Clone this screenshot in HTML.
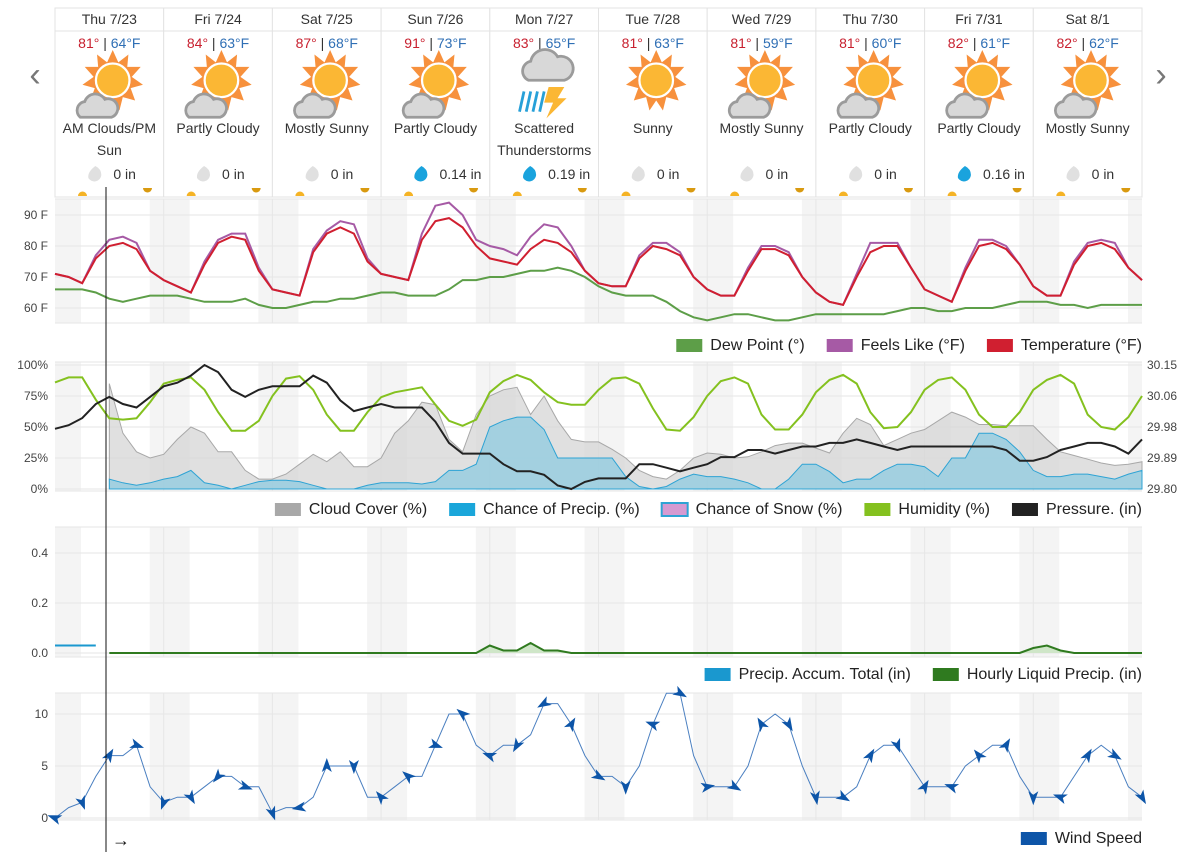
<!DOCTYPE html>
<html><head><meta charset="utf-8">
<style>
body{margin:0;background:#fff;font-family:"Liberation Sans",sans-serif;}
#wrap{position:relative;width:1197px;height:858px;overflow:hidden;}
svg text{font-family:"Liberation Sans",sans-serif;}
</style></head>
<body>
<div id="wrap">
<svg id="svg" width="1197" height="858" viewBox="0 0 1197 858">
<defs>
<g id="sun">
<polygon points="0,-27 5,-16 14,-23 13,-12 25,-12 17,-3 27,4 16,7 20,18 9,15 6,27 0,18 -6,27 -9,15 -20,18 -16,7 -27,4 -17,-3 -25,-12 -13,-12 -14,-23 -5,-16" fill="#f7913d"/>
<circle r="15" fill="#fbb734" stroke="#fff" stroke-width="2"/>
</g>
<g id="cloud">
<path d="M-18,10 a8,8 0 0 1 4,-14 a10,10 0 0 1 18,-2 a8,8 0 0 1 6,16 z" fill="#d8d8d8" stroke="#9b9b9b" stroke-width="2.5"/>
</g>
</defs>
<g id="header"></g>
<g id="c1"></g><g id="c2"></g><g id="c3"></g><g id="c4"></g>
<line x1="106" y1="187" x2="106" y2="852" stroke="#111" stroke-width="1"/>
<text x="112" y="846" font-size="18" fill="#111">→</text>
<text x="35" y="86" font-size="34" fill="#777" text-anchor="middle">‹</text>
<text x="1161" y="86" font-size="34" fill="#777" text-anchor="middle">›</text>
</svg>
</div>
<script>
const days=["Thu 7/23","Fri 7/24","Sat 7/25","Sun 7/26","Mon 7/27","Tue 7/28","Wed 7/29","Thu 7/30","Fri 7/31","Sat 8/1"];
const highs=[81,84,87,91,83,81,81,81,82,82];
const lows=[64,63,68,73,65,63,59,60,61,62];
const conds=[["AM Clouds/PM","Sun"],["Partly Cloudy"],["Mostly Sunny"],["Partly Cloudy"],["Scattered","Thunderstorms"],["Sunny"],["Mostly Sunny"],["Partly Cloudy"],["Partly Cloudy"],["Mostly Sunny"]];
const icons=["pc","pc","pc","pc","ts","sun","pc","pc","pc","pc"];
const precipDay=["0 in","0 in","0 in","0.14 in","0.19 in","0 in","0 in","0 in","0.16 in","0 in"];

const temp=[71,70,68,76,80,81,79,72, 69,67,65,74,81,83,82,72, 66,65,64,78,84,86,84,75, 71,70,69,82,88,89,86,80, 76,75,74,79,82,81,78,72, 68,67,67,76,80,79,77,70, 66,64,64,72,79,79,77,70, 65,62,61,70,78,80,80,73, 66,64,62,72,80,81,79,74, 67,64,64,74,80,81,79,73,69];
const feels=[71,70,68,77,82,83,81,72, 69,67,65,75,82,84,84,73, 66,65,64,79,85,88,87,76, 71,70,69,84,93,94,90,82, 80,79,77,83,87,86,80,72, 68,67,67,77,81,81,78,70, 66,64,64,73,80,80,78,70, 65,62,61,71,81,81,81,73, 66,64,62,73,82,82,80,74, 67,64,64,75,81,82,81,73,69];
const dew=[66,66,66,65,63,62,63,64, 64,64,63,62,62,62,63,61, 60,60,61,62,62,63,63,64, 65,65,64,64,64,66,69,69, 70,70,71,72,72,73,72,70, 67,65,64,64,64,62,59,57, 56,57,58,58,57,56,56,57, 58,58,58,58,58,58,59,60, 60,59,59,60,60,60,61,62, 62,62,61,61,60,61,61,61,61];
const cloud=[null,null,null,null,85,45,30,25, 28,40,50,45,30,30,15,8, 8,12,20,28,22,30,18,18, 25,45,55,70,68,40,30,60, 75,80,82,60,75,55,40,38, 38,32,25,15,10,8,15,25, 29,28,25,26,30,35,37,37, 33,29,45,57,52,35,40,45, 48,55,62,58,52,52,51,51, 51,40,30,27,24,21,19,20,22];
const pop=[null,null,null,null,8,5,3,5, 8,10,15,5,3,0,3,6, 7,7,6,3,0,0,0,3, 5,5,5,4,6,15,15,20, 50,55,58,58,48,25,25,25, 25,25,10,2,0,2,8,12, 10,10,8,5,0,0,8,20, 20,14,5,8,8,15,20,20, 18,10,25,25,45,45,40,30, 15,10,10,12,12,10,8,12,15];
const humidity=[86,90,90,72,57,56,57,70, 85,88,90,80,62,47,47,55, 75,89,91,80,60,47,47,62, 74,78,80,82,68,55,51,56, 78,87,92,88,78,70,68,68, 80,89,90,85,65,48,47,58, 75,87,90,85,60,48,48,60, 78,88,92,85,62,49,50,62, 80,88,90,80,60,50,50,62, 80,88,92,85,60,50,48,58,75];
const pressure=[29.97,29.98,30.00,30.04,30.06,30.04,30.03,30.06, 30.09,30.10,30.12,30.15,30.13,30.08,30.06,30.08, 30.09,30.09,30.09,30.12,30.10,30.05,30.02,30.03, 30.04,30.03,30.03,30.03,29.99,29.93,29.90,29.90, 29.90,29.87,29.85,29.85,29.84,29.81,29.80,29.82, 29.83,29.83,29.83,29.87,29.87,29.86,29.85,29.86, 29.87,29.89,29.89,29.91,29.91,29.90,29.91,29.92, 29.92,29.93,29.93,29.94,29.93,29.92,29.91,29.92, 29.92,29.92,29.92,29.92,29.92,29.92,29.91,29.88, 29.88,29.89,29.91,29.92,29.93,29.93,29.92,29.90,29.94];
const liquid=[null,null,null,null,0,0,0,0, 0,0,0,0,0,0,0,0, 0,0,0,0,0,0,0,0, 0,0,0,0,0,0,0,0, 0.03,0.01,0.01,0.04,0.01,0.01,0,0, 0,0,0,0,0,0,0,0, 0,0,0,0,0,0,0,0, 0,0,0,0,0,0,0,0, 0,0,0,0,0,0,0,0, 0.02,0.03,0.01,0,0,0,0,0,0];
const accum=[0.03,0.03,0.03,0.03];
const wind=[0,1,1.5,4,6,6,7,3, 1.5,2,2,3,4,4,3,3, 0.5,1,1,2,5,5,5,2, 2,3,4,4,7,10,10,7, 6,7,7,8,11,11,9,6, 4,4,3,5,9,12,12,6, 3,3,3,5,9,10,9,5, 2,2,2,3,6,7,7,5, 3,3,3,5,6,7,7,4, 2,2,2,4,6,7,6,3,2];
const windDir=[200,160,70,80,300,330,20,240, 110,120,60,45,130,300,20,110, 70,300,170,270,270,150,90,120, 230,130,220,290,20,330,220,240, 200,210,120,200,150,90,300,40, 30,40,90,350,200,45,30,300, 350,70,30,80,240,200,60,60, 80,300,30,220,300,70,70,50, 300,200,200,260,230,20,300,45, 90,60,200,240,300,160,30,330,60];
const yT=["90 F","80 F","70 F","60 F"];const yTv=[90,80,70,60];
const yP=["100%","75%","50%","25%","0%"];const yPv=[100,75,50,25,0];
const yPr=["30.15","30.06","29.98","29.89","29.80"];
const yQ=["0.4","0.2","0.0"];const yQv=[0.4,0.2,0];
const yW=["10","5","0"];const yWv=[10,5,0];

const NS="http://www.w3.org/2000/svg";
const X0=55,X1=1142,N=80;
function xs(i){return X0+(X1-X0)*i/N;}
function mk(parent,tag,attrs){const e=document.createElementNS(NS,tag);for(const k in attrs)e.setAttribute(k,attrs[k]);parent.appendChild(e);return e;}
function linePath(arr,ys){let d="";let pen=false;arr.forEach((v,i)=>{if(v===null){pen=false;return;}d+=(pen?"L":"M")+xs(i).toFixed(1)+","+ys(v).toFixed(1);pen=true;});return d;}
function areaPath(arr,ys,base){let pts=[];arr.forEach((v,i)=>{if(v!==null)pts.push([xs(i),ys(v)]);});if(!pts.length)return"";let d="M"+pts[0][0]+","+base;pts.forEach(p=>d+="L"+p[0].toFixed(1)+","+p[1].toFixed(1));d+="L"+pts[pts.length-1][0]+","+base+"Z";return d;}

// header
const H=document.getElementById('header');
const cw=(X1-X0)/10;
for(let d=0;d<10;d++){
  const x=X0+d*cw,cx=x+cw/2;
  const g=mk(H,'g',{});
  
  
  mk(g,'rect',{x:x,y:8,width:cw,height:189,fill:'#fff',stroke:'#e3e3e3'});
  mk(g,'line',{x1:x,y1:31,x2:x+cw,y2:31,stroke:'#e3e3e3'});
  let t=mk(g,'text',{x:cx,y:24,'font-size':14,'text-anchor':'middle',fill:'#333'});t.textContent=days[d];
  t=mk(g,'text',{x:cx,y:48,'font-size':14,'text-anchor':'middle'});
  const a=mk(t,'tspan',{fill:'#c8202f'});a.textContent=highs[d]+"°";
  const b=mk(t,'tspan',{fill:'#333'});b.textContent=" | ";
  const c=mk(t,'tspan',{fill:'#2f6fb5'});c.textContent=lows[d]+"°F";
  const ic=mk(g,'g',{transform:'translate('+cx+',87) scale(1.12)'});
  
  
  if(icons[d]==='ts'){
    mk(ic,'path',{d:'M-14,4 a9,9 0 0 1 2,-17 a13,13 0 0 1 24,-4 a10,10 0 0 1 6,21 z',fill:'#d8d8d8',stroke:'#9b9b9b','stroke-width':2.5,transform:'translate(0,-10)'});
    for(let k=0;k<4;k++)mk(ic,'line',{x1:-18+k*6,y1:4,x2:-22+k*6,y2:22,stroke:'#27a0d8','stroke-width':2.5});
    mk(ic,'polygon',{points:'4,0 18,0 12,10 20,10 2,28 8,14 0,14',fill:'#fbb734'});
  }else{
    mk(ic,'use',{href:'#sun',x:3,y:-6});
    if(icons[d]==='pc')mk(ic,'use',{href:'#cloud',x:-8,y:17});
  }
  conds[d].forEach((s,k)=>{const tt=mk(g,'text',{x:cx,y:133+k*22,'font-size':14,'text-anchor':'middle',fill:'#333'});tt.textContent=s;});
  const wet=precipDay[d]!=="0 in";
  mk(g,'path',{d:'M'+(cx-14)+',166 q-8,6 -7,12 a7,7 0 0 0 13,-3 q0,-6 -6,-9z',fill:wet?'#1aa3dd':'#e0e0e0'});
  t=mk(g,'text',{x:cx+4,y:179,'font-size':14,'text-anchor':'start',fill:'#333'});t.textContent=precipDay[d];
  mk(g,'path',{d:'M'+(x+23)+',196 a4.5,4.5 0 0 1 9,0z',fill:'#f5b325'});
  mk(g,'path',{d:'M'+(x+88)+',188 a4.5,4.5 0 0 0 9,0z',fill:'#d99a10'});
}

function panel(id,top,bot,ticksV,ticksL,ys,rightL){
  const g=document.getElementById(id);
  
  mk(g,'rect',{x:X0,y:top,width:X1-X0,height:bot-top,fill:'#fff'});
  for(let d=0;d<=10;d++){
    const n0=X0+d*cw-14,n1=X0+d*cw+26;
    const a=Math.max(n0,X0),b=Math.min(n1,X1);
    if(b>a)mk(g,'rect',{x:a,y:top,width:b-a,height:bot-top,fill:'#f4f4f4'});
    if(d>0&&d<10)mk(g,'line',{x1:X0+d*cw,y1:top,x2:X0+d*cw,y2:bot,stroke:'#e6e6e6'});
  }
  mk(g,'line',{x1:X0,y1:top,x2:X1,y2:top,stroke:'#e6e6e6'});
  mk(g,'line',{x1:X0,y1:bot,x2:X1,y2:bot,stroke:'#e6e6e6'});
  ticksV.forEach((v,k)=>{
    mk(g,'line',{x1:X0,y1:ys(v),x2:X1,y2:ys(v),stroke:'#e6e6e6'});
    const t=mk(g,'text',{x:48,y:ys(v)+4,'font-size':12,'text-anchor':'end',fill:'#444'});t.textContent=ticksL[k];
    
    
    if(rightL){const r=mk(g,'text',{x:1147,y:ys(v)+4,'font-size':12,fill:'#444'});r.textContent=rightL[k];
      
      }
  });
  return g;
}
function legend(g,y,items){
  let x=X1;
  for(let k=items.length-1;k>=0;k--){
    const [lab,col,stroke]=items[k];
    const w=lab.length*8.6;
    const t=mk(g,'text',{x:x,y:y+5,'font-size':16,'text-anchor':'end',fill:'#222'});t.textContent=lab;
    const len=t.getComputedTextLength?t.getComputedTextLength():w;
    const r=mk(g,'rect',{x:x-len-34,y:y-6,width:26,height:13,fill:col,stroke:stroke||'none','stroke-width':2});
    const le=mk(g,'g',{});
    
    
    le.appendChild(r);le.appendChild(t);
    x=x-len-34-22;
  }
}
function path(g,d,attrs,name){const p=mk(g,'path',Object.assign({d:d,fill:'none'},attrs));return p;}

// chart 1
const yt=v=>308-(v-60)*3.1;
let g=panel('c1',199,323,yTv,yT,yt);

path(g,linePath(dew,yt),{stroke:'#5d9e48','stroke-width':2},'dew-point-line');
path(g,linePath(feels,yt),{stroke:'#a65aa5','stroke-width':2},'feels-like-line');
path(g,linePath(temp,yt),{stroke:'#d01f30','stroke-width':2},'temperature-line');
legend(g,345,[["Dew Point (°)","#5d9e48"],["Feels Like (°F)","#a65aa5"],["Temperature (°F)","#d01f30"]]);

// chart 2
const yp=v=>489-v*1.24;
const ypr=v=>489-(v-29.80)/0.35*124;
g=panel('c2',362,491,yPv,yP,yp,yPr);

path(g,areaPath(cloud,yp,489),{fill:'#d6d6d6','fill-opacity':0.75,stroke:'#a8a8a8','stroke-width':1},'cloud-cover-area');
path(g,areaPath(pop,yp,489),{fill:'#8fcbe0','fill-opacity':0.75,stroke:'#2ea3d4','stroke-width':1},'chance-precip-area');
path(g,linePath(humidity,yp),{stroke:'#84c11f','stroke-width':2},'humidity-line');
path(g,linePath(pressure,ypr),{stroke:'#222','stroke-width':2},'pressure-line');
legend(g,509,[["Cloud Cover (%)","#a8a8a8"],["Chance of Precip. (%)","#1aa6da"],["Chance of Snow (%)","#d59ad1","#2ea3d4"],["Humidity (%)","#84c11f"],["Pressure. (in)","#222"]]);

// chart 3
const yq=v=>653-v*250;
g=panel('c3',527,657,yQv,yQ,yq);

path(g,linePath(accum,yq),{stroke:'#1a98cf','stroke-width':2},'precip-accum-line');
path(g,areaPath(liquid,yq,653),{fill:'#cfe6c8',stroke:'none'},'liquid-precip-fill');
path(g,linePath(liquid,yq),{stroke:'#2f7a1f','stroke-width':2},'hourly-liquid-line');
legend(g,674,[["Precip. Accum. Total (in)","#1a98cf"],["Hourly Liquid Precip. (in)","#2f7a1f"]]);

// chart 4
const yw=v=>818-v*10.4;
g=panel('c4',693,820,yWv,yW,yw);

path(g,linePath(wind,yw),{stroke:'#4a7fc0','stroke-width':1},'wind-speed-line');
wind.forEach((v,i)=>{
  if(i%2)return;
  const a=mk(g,'polygon',{points:'8,0 -6,-5 -2.5,0 -6,5',fill:'#0d55a8',transform:'translate('+xs(i).toFixed(1)+','+yw(v).toFixed(1)+') rotate('+windDir[i]+')'});
  
  
});
legend(g,838,[["Wind Speed","#0d55a8"]]);
</script>
</body></html>
